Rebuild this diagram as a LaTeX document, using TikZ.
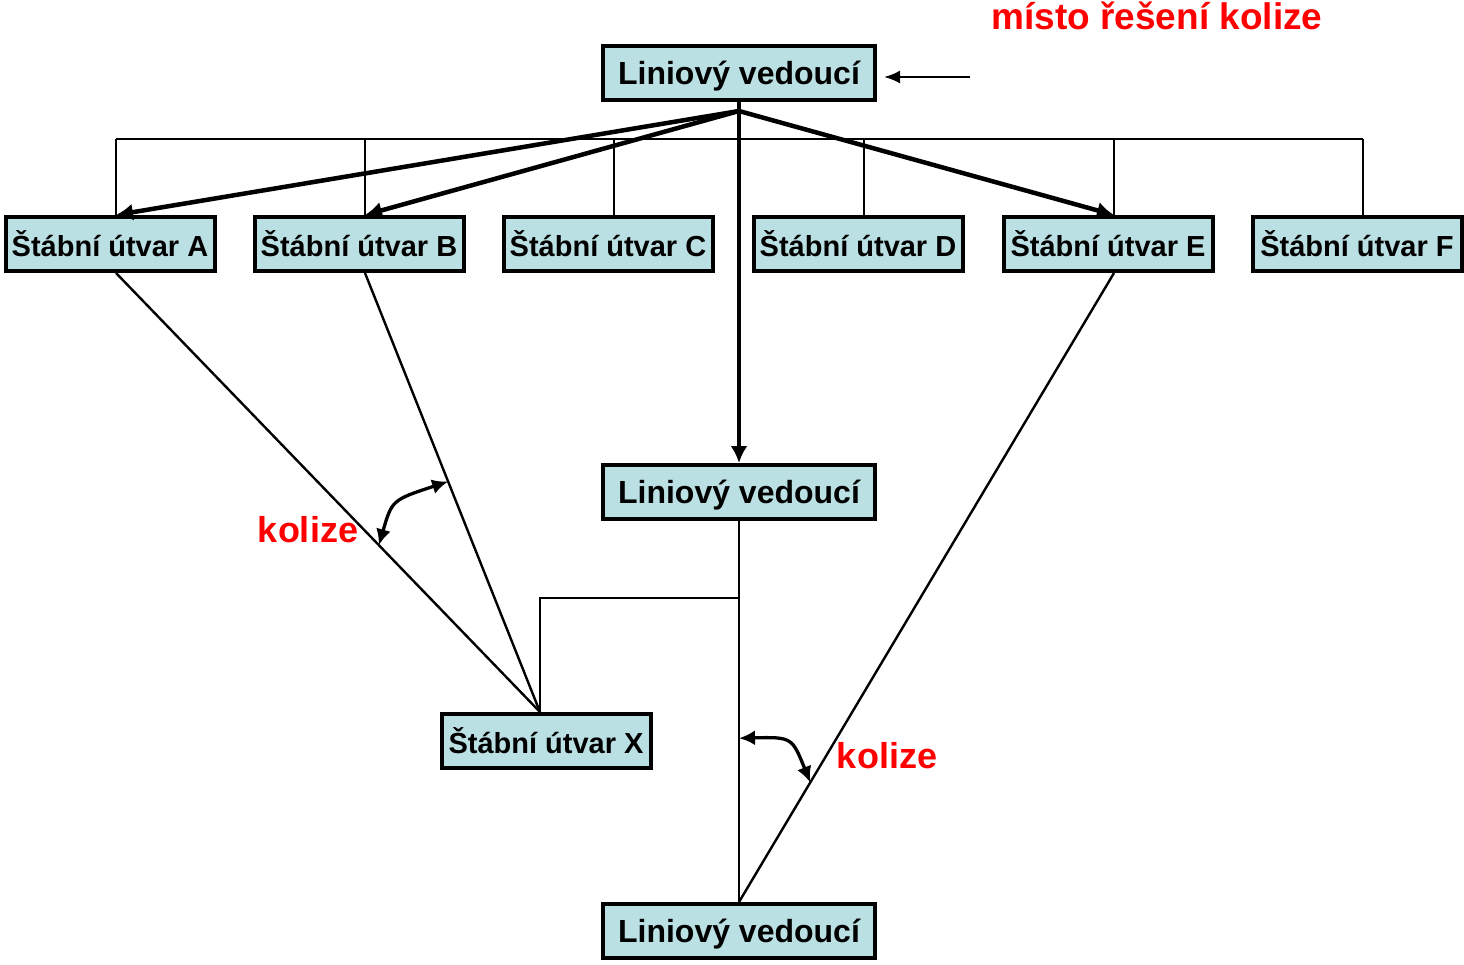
\documentclass[tikz,border=0pt]{standalone}
\usepackage{fontspec}
\setmainfont{Liberation Sans}
\usetikzlibrary{arrows.meta}
\definecolor{boxcyan}{RGB}{187,224,227}

\begin{document}
\begin{tikzpicture}[x=1pt,y=-1pt,
  vedouci/.style={draw, line width=4pt, fill=boxcyan, minimum width=272pt, minimum height=54pt, inner sep=0pt, text depth=0pt, font=\fontsize{32}{38}\selectfont\bfseries},
  utvar/.style={draw, line width=4pt, fill=boxcyan, minimum width=209pt, minimum height=54pt, inner sep=0pt, font=\fontsize{29}{35}\selectfont\bfseries},
  kolize/.style={text=red, font=\fontsize{36}{42}\selectfont\bfseries},
  tenka/.style={line width=2.4pt},
  silna/.style={line width=4.5pt, line cap=round, -{Latex[length=17pt,width=17pt]}},
  uhel/.style={line width=3.3pt, {Latex[length=16pt,width=15pt]}-{Latex[length=16pt,width=15pt]}}]

\useasboundingbox (0,0) rectangle (1464,965);

%Liniovi vedouci
\node[vedouci] (lvTop) at (739,73) {Liniový vedoucí};
\node[vedouci] (lvMid) at (739,492) {Liniový vedoucí};
\node[vedouci] (lvBot) at (739,931) {Liniový vedoucí};

%Stabni utvary
\foreach \s/\x in {A/110,B/359,C/608,D/858,E/1108,F/1357}
\node[utvar] (s\s) at (\x,244) {Štábní útvar \s};
\node[utvar] (sX) at (546,741) {Štábní útvar X};

\foreach \s in {A,B,C,D,E,F,X} {
\coordinate (d\s) at ([xshift=6pt]s\s.north);
\coordinate (u\s) at ([xshift=6pt]s\s.south);
}
\coordinate (dX) at ([xshift=-6pt]sX.north);
\coordinate (hub) at (739,111);
\coordinate (bar) at (0,139);
\coordinate (branch) at (739,598);
\coordinate (pointer) at (970,77);

% Stab lines
\draw[tenka] (dA |- bar) -- (dF |- bar);
\foreach \s in {A,B,C,D,E,F}
\draw[tenka] (d\s) -- (d\s |- bar);

% Orders from the top
\draw[line width=4.5pt, line cap=round] (lvTop.south) -- (hub);
\foreach \s in {A,B,E}
\draw[silna] (hub) -- (d\s);
\draw[silna] (hub) -- (lvMid.north);

% Lower line
\draw[tenka] (lvMid.south) -- (lvBot.north);
\draw[tenka] (branch) -| (dX);
\foreach \s in {A,B}
\draw[tenka] (u\s) -- (dX);
\draw[tenka] (uE) -- (lvBot.north);

% Kolize
\path (uA) -- (dX) coordinate[pos=0.62] (kA);
\path (uB) -- (dX) coordinate[pos=0.475] (kB);
\path (uE) -- (lvBot.north) coordinate[pos=0.81] (kE);
\path (lvMid.south) -- (lvBot.north) coordinate[pos=0.57] (kM);
\draw[uhel] (kA) .. controls (392,500) .. (kB);
\draw[uhel] (kM) .. controls (792,737) .. (kE);
\node[kolize] (kolizeL) at (308,530) {kolize};
\node[kolize] (kolizeR) at (887,756) {kolize};

% Misto reseni
\node[kolize, font=\fontsize{37}{43}\selectfont\bfseries] (misto) at (1157,16) {místo řešení kolize};
\draw[tenka, shorten >=7pt, -{Latex[length=16pt,width=13pt]}] (pointer) -- (pointer -| lvTop.east);

\end{tikzpicture}
\end{document}
